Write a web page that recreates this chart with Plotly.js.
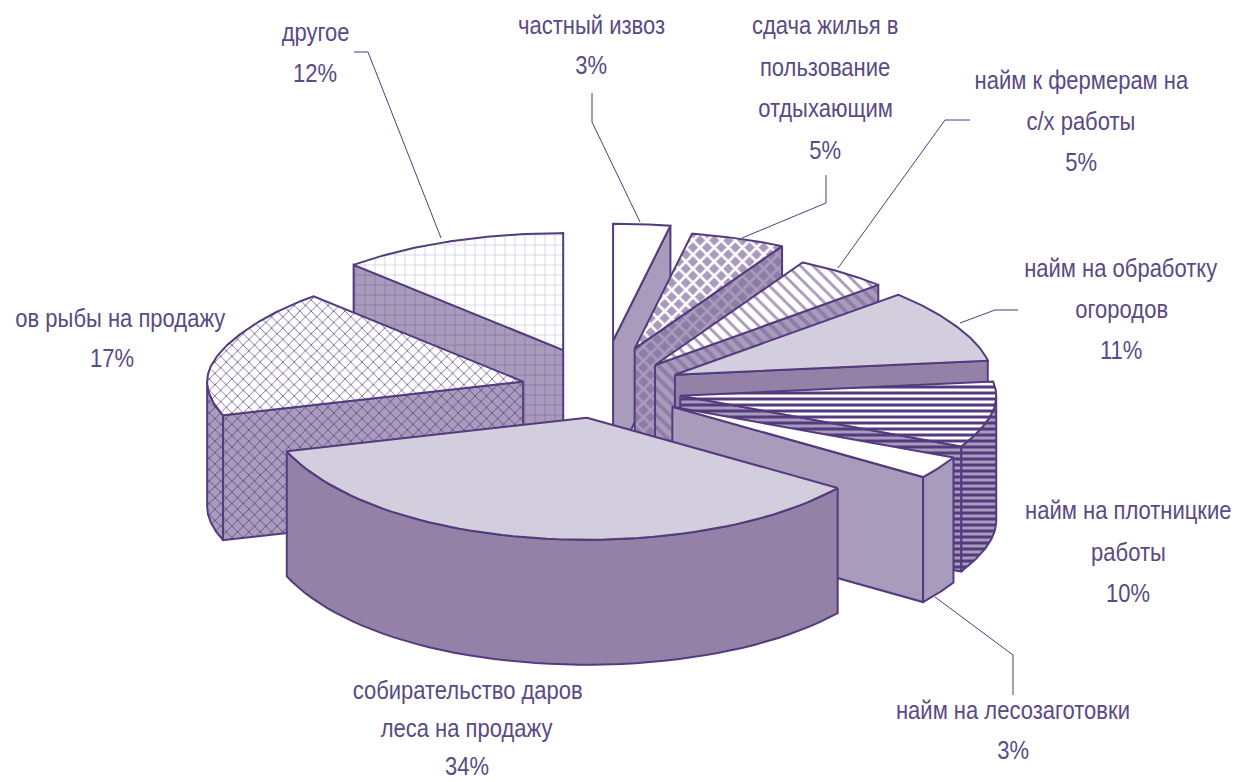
<!DOCTYPE html>
<html><head><meta charset="utf-8">
<script src="https://cdn.plot.ly/plotly-3.0.1.min.js"></script>
<style>html,body{margin:0;padding:0;background:#fff;overflow:hidden}</style>
</head><body><div id="chart" style="width:1252px;height:782px"></div>
<script>
// Data
const categories = ["частный извоз","сдача жилья в пользование отдыхающим","найм к фермерам на с/х работы","найм на обработку огородов","найм на плотницкие работы","найм на лесозаготовки","собирательство даров леса на продажу","ов рыбы на продажу","другое"];
const values = [3,5,5,11,10,3,34,17,12];

// Label layout (wrapped text lines, centre x, first line centre y, line gap)
const labelLines = [
 ["частный извоз","3%"],["сдача жилья в","пользование","отдыхающим","5%"],["найм к фермерам на","с/х работы","5%"],
 ["найм на обработку","огородов","11%"],["найм на плотницкие","работы","10%"],["найм на лесозаготовки","3%"],
 ["собирательство даров","леса на продажу","34%"],["ов рыбы на продажу","17%"],["другое","12%"]];
const labelCx = [591,825,1081,1121,1128,1013,467,120,315];
const labelCy = [25,25,80,268,510,710,690,318,32];
const labelGap = [40,41.7,41,41,41.5,40,38,40,41];
const leaders = [
 [[592,592,640],[93,122,222]],[[826,826,742],[175,203,238]],[[970,945,838],[120,120,268]],
 [[1018,995,960],[310,310,323]],null,[[1013,1013,935],[695,655,597]],null,null,[[354,368,441],[52,52,238]]];

// Style per slice
const INK="#533b7e", MID="#a99bbb", DARK="#9381a8", PALE="#d3cede", TXT="#5a4a85";
const topStyle = [
 {c:"#ffffff"},
 {c:MID,p:{shape:"x",fgcolor:"#ffffff",bgcolor:MID,size:10,solidity:0.45}},
 {c:"#ffffff",p:{shape:"\\",fgcolor:MID,bgcolor:"#ffffff",size:9,solidity:0.32}},
 {c:PALE},
 {c:"#ffffff",p:{shape:"-",fgcolor:INK,bgcolor:"#ffffff",size:6,solidity:0.5}},
 {c:"#ffffff"},
 {c:PALE},
 {c:"#ffffff",p:{shape:"x",fgcolor:"#6f5d98",bgcolor:"#ffffff",size:8,solidity:0.2}},
 {c:"#ffffff",p:{shape:"+",fgcolor:PALE,bgcolor:"#ffffff",size:10,solidity:0.16}}];
const wallStyle = [
 {c:MID},
 {c:MID,p:{shape:"x",fgcolor:MID,bgcolor:"#8d7ca6",size:10,solidity:0.45}},
 {c:MID,p:{shape:"\\",fgcolor:"#8d7ca6",bgcolor:MID,size:9,solidity:0.42}},
 {c:DARK},
 {c:MID,p:{shape:"-",fgcolor:INK,bgcolor:MID,size:6,solidity:0.5}},
 {c:MID},
 {c:DARK},
 {c:MID,p:{shape:"x",fgcolor:"#5d4a88",bgcolor:MID,size:8,solidity:0.2}},
 {c:MID,p:{shape:"+",fgcolor:"#8a78a6",bgcolor:MID,size:10,solidity:0.16}}];
const drawOrder = [0,1,2,3,4,5,8,7,6];

// Projection of the exploded 3D pie
const RY_BACK=117, RY_FRONT=122, DEPTH=125;
const rad=d=>d*Math.PI/180;
function warp(t){ // perspective stretch of the sectors nearest the viewer
  let r=t-1.6*Math.exp(-Math.pow((t-255)/25,2));
  if(t>80&&t<255) r-=8*Math.sin(Math.PI*Math.pow((t-80)/175,0.6));
  return r;
}
function apexOf(mid){
  const s=Math.sin(rad(mid)), v=Math.cos(rad(mid));
  const p=s<0?(s>-0.25?0.97:0.75):0.8;
  const x=601+80*Math.sign(s)*Math.pow(Math.abs(s),p);
  const y=(v>0?385-45*Math.pow(v,3.5):385+33*Math.pow(-v,0.6))
    -8*Math.exp(-Math.pow((mid-64)/14,2))-3*Math.exp(-Math.pow((mid-286)/14,2));
  return [x,y];
}
function rim(a,t,z){
  const c=Math.cos(rad(t)), s=Math.sin(rad(t));
  const rx=306+10*Math.pow(Math.abs(s),12);
  return [a[0]+rx*s, a[1]-(c>0?RY_BACK:RY_FRONT)*c+z*DEPTH];
}
function poly(pts,st){
  const tr={type:"scatter",mode:"lines",x:pts.map(p=>p[0]),y:pts.map(p=>p[1]),fill:"toself",
    fillcolor:st.c,line:{color:INK,width:2},hoverinfo:"skip",showlegend:false};
  if(st.p) tr.fillpattern=Object.assign({fillmode:"replace"},st.p);
  return tr;
}
const total=values.reduce((a,b)=>a+b,0);
let cum=0;
const slices=values.map(v=>{
  const s=warp(cum/total*360); cum+=v; const e=warp(cum/total*360);
  return {s,e,a:apexOf((s+e)/2)};
});
const traces=[];
drawOrder.forEach(i=>{
  const {s,e,a}=slices[i];
  const wall=wallStyle[i];
  const ab=[a[0],a[1]+DEPTH];
  if(e<=180) traces.push(poly([a,rim(a,e,0),rim(a,e,1),ab,a],wall));
  else if(s>=180) traces.push(poly([a,rim(a,s,0),rim(a,s,1),ab,a],wall));
  const w0=Math.max(s,90), w1=Math.min(e,270);
  if(w1>w0){
    const up=[],dn=[];
    for(let k=0;k<=48;k++){const t=w0+(w1-w0)*k/48; up.push(rim(a,t,0)); dn.unshift(rim(a,t,1));}
    traces.push(poly(up.concat(dn,[up[0]]),wall));
  }
  const face=[a];
  for(let k=0;k<=60;k++) face.push(rim(a,s+(e-s)*k/60,0));
  face.push(a);
  traces.push(poly(face,topStyle[i]));
});
leaders.forEach(l=>{ if(l) traces.push({type:"scatter",mode:"lines",x:l[0],y:l[1],line:{color:INK,width:1},hoverinfo:"skip",showlegend:false}); });

const annotations=[];
labelLines.forEach((lines,i)=>lines.forEach((t,j)=>annotations.push({
  x:(i===7&&j===1)?112:labelCx[i], y:labelCy[i]+j*labelGap[i], xref:"x",yref:"y",text:t,showarrow:false,
  xanchor:"center",yanchor:"middle",font:{family:"'Liberation Sans',sans-serif",size:25,color:TXT}
})));

Plotly.newPlot("chart",traces,{
  width:1252,height:782,margin:{l:0,r:0,t:0,b:0},paper_bgcolor:"#fff",plot_bgcolor:"#fff",showlegend:false,
  xaxis:{range:[0,1252],visible:false,fixedrange:true},
  yaxis:{range:[782,0],visible:false,fixedrange:true},
  annotations
},{displayModeBar:false,staticPlot:true}).then(gd=>{
  // The reference lettering is a condensed face: narrow the glyphs, keeping real text.
  gd.querySelectorAll(".annotation-text").forEach(t=>{
    const w=t.getComputedTextLength();
    t.setAttribute("textLength",(w*0.88).toFixed(1));
    t.setAttribute("lengthAdjust","spacingAndGlyphs");
  });
});
</script></body></html>
